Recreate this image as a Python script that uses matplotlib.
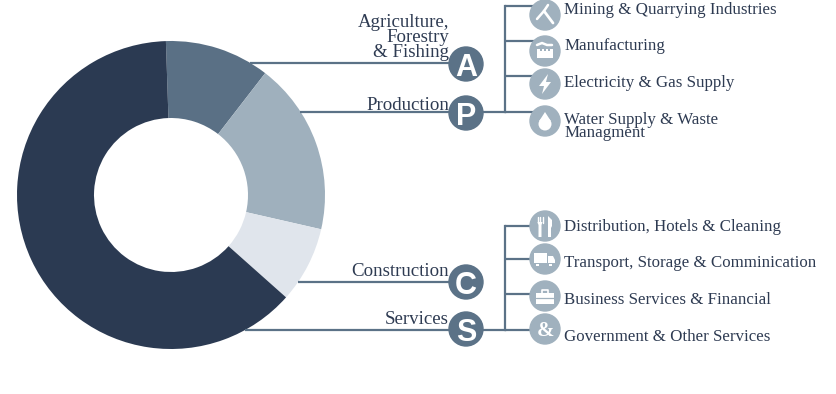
import matplotlib
matplotlib.use("Agg")
import matplotlib.pyplot as plt
from matplotlib.patches import Circle, Polygon, Rectangle

# Share of each sector
sectors = ["Agriculture", "Production", "Construction", "Services"]
shares = [11.0, 18.1, 8.0, 62.9]
slice_colors = ["#5a7085", "#9fb0bd", "#e0e5ec", "#2b3a52"]

letters = ["A", "P", "C", "S"]
letter_y = [64, 113, 282, 329]
sector_labels = ["Agriculture,\nForestry\n& Fishing", "Production", "Construction", "Services"]
sector_label_y = [57, 110, 276, 324]
line_y = [63, 112, 282, 329.5]
line_start_x = [250, 300, 298, 245]

top_labels = ["Mining & Quarrying Industries", "Manufacturing", "Electricity & Gas Supply",
              "Water Supply & Waste\nManagment"]
top_label_y = [14, 50, 87, 137]
top_icon_y = [15, 51, 84, 121]
top_branch_y = [6, 41, 76, 112]

bottom_labels = ["Distribution, Hotels & Cleaning", "Transport, Storage & Comminication",
                 "Business Services & Financial", "Government & Other Services"]
bottom_label_y = [231, 267, 304, 341]
bottom_icon_y = [226, 259, 296, 329]
bottom_branch_y = [226, 259, 294, 329.5]

LINE = "#5b7287"
ICON = "#a0b1be"
TEXT = "#2e3b52"
SERIF = "Liberation Serif"

fig = plt.figure(figsize=(8.36, 3.94), dpi=100)
ax = fig.add_axes([0, 0, 1, 1])

# donut (y axis is flipped below, so angles run clockwise on screen)
ax.pie(shares, colors=slice_colors, center=(171, 195), radius=154, startangle=-91.9,
       wedgeprops=dict(width=77, linewidth=0))
ax.set_xlim(0, 836)
ax.set_ylim(394, 0)
ax.set_aspect("equal")
ax.axis("off")

# sector connectors, letters and labels
for i in range(len(letters)):
    ax.plot([line_start_x[i], 466], [line_y[i]] * 2, color=LINE, lw=1.6, zorder=1,
            solid_capstyle="butt")
    ax.add_patch(Circle((466, letter_y[i]), 17, color=LINE, zorder=3))
    ax.text(466, letter_y[i] + 0.5, letters[i], color="white", fontsize=22, fontweight="bold",
            family="Liberation Sans", ha="center", va="center_baseline", zorder=4)
    ax.text(449, sector_label_y[i], sector_labels[i], color=TEXT, fontsize=13.6, family=SERIF,
            ha="right", va="baseline", multialignment="right", linespacing=0.86, zorder=2)

# brackets to the sub sectors
for branch_y, join_y in [(top_branch_y, 112), (bottom_branch_y, 329.5)]:
    ax.plot([466, 505], [join_y, join_y], color=LINE, lw=1.6, zorder=1)
    ax.plot([505, 505], [branch_y[0], branch_y[-1]], color=LINE, lw=1.6, zorder=1)
    for y in branch_y:
        ax.plot([505, 535], [y, y], color=LINE, lw=1.6, zorder=1, solid_capstyle="butt")

for y in top_icon_y + bottom_icon_y:
    ax.add_patch(Circle((545, y), 15, color=ICON, zorder=3))


def icon_line(cx, cy, pts, lw=2.0, color="white"):
    ax.plot([cx + p[0] for p in pts], [cy + p[1] for p in pts], color=color, lw=lw, zorder=4,
            solid_capstyle="round")


def icon_poly(cx, cy, pts, color="white"):
    ax.add_patch(Polygon([(cx + p[0], cy + p[1]) for p in pts], closed=True, color=color,
                         lw=0, zorder=4))


def icon_rect(cx, cy, x, y, w, h, color="white"):
    ax.add_patch(Rectangle((cx + x, cy + y), w, h, color=color, lw=0, zorder=4))


# pickaxe
icon_line(545, top_icon_y[0], [(-8, 4), (-1, -4), (3, -10)], lw=1.8)
icon_line(545, top_icon_y[0], [(-1, -4), (8, 8)], lw=2.0)
# factory
icon_line(545, top_icon_y[1], [(-8, -6), (-3, -8), (2, -6), (7, -6)], lw=1.8)
icon_rect(545, top_icon_y[1], -8, -2, 16, 9)
for dx in (-5, -1, 3):
    icon_rect(545, top_icon_y[1], dx, -2, 2, 2, color=ICON)
# lightning bolt
icon_poly(545, top_icon_y[2], [(3, -10), (-6, 2), (-1, 2), (-3, 10), (6, -2), (1, -2)])
# drop
ax.add_patch(Circle((545, top_icon_y[3] + 3), 6.5, color="white", lw=0, zorder=4))
icon_poly(545, top_icon_y[3], [(0, -9), (-5.8, 0), (5.8, 0)])
# fork and knife
icon_line(545, bottom_icon_y[0], [(-5, -9), (-5, -3)], lw=1.0)
icon_line(545, bottom_icon_y[0], [(-2.5, -9), (-2.5, -3)], lw=1.0)
icon_line(545, bottom_icon_y[0], [(-7.5, -9), (-7.5, -3)], lw=1.0)
icon_poly(545, bottom_icon_y[0], [(-7.5, -4), (-2.5, -4), (-3.5, -1), (-3.5, 11), (-6.5, 11), (-6.5, -1)])
icon_poly(545, bottom_icon_y[0], [(3, -10), (7, -6), (7, 0), (6, 2), (6, 11), (3, 11)])
# truck
icon_rect(545, bottom_icon_y[1], -11, -6, 13, 10)
icon_poly(545, bottom_icon_y[1], [(3, -3), (8, -3), (10, 1), (10, 4), (3, 4)])
icon_rect(545, bottom_icon_y[1], -9, 5, 3, 2)
icon_rect(545, bottom_icon_y[1], 4, 5, 3, 2)
# briefcase
icon_rect(545, bottom_icon_y[2], -9, -3, 18, 11)
icon_line(545, bottom_icon_y[2], [(-3, -3), (-3, -6), (3, -6), (3, -3)], lw=1.2)
icon_line(545, bottom_icon_y[2], [(-9, 2), (9, 2)], lw=0.9, color=ICON)
# ampersand
ax.text(545, bottom_icon_y[3], "&", color="white", fontsize=15, fontweight="bold", family=SERIF,
        ha="center", va="center_baseline", zorder=4)

# sub sector labels
for labels, ys in [(top_labels, top_label_y), (bottom_labels, bottom_label_y)]:
    for label, y in zip(labels, ys):
        ax.text(564.5, y, label, color=TEXT, fontsize=12.2, family=SERIF, ha="left", va="baseline",
                multialignment="left", linespacing=0.78, zorder=2)

fig.savefig("out.png", dpi=100, facecolor="white")
